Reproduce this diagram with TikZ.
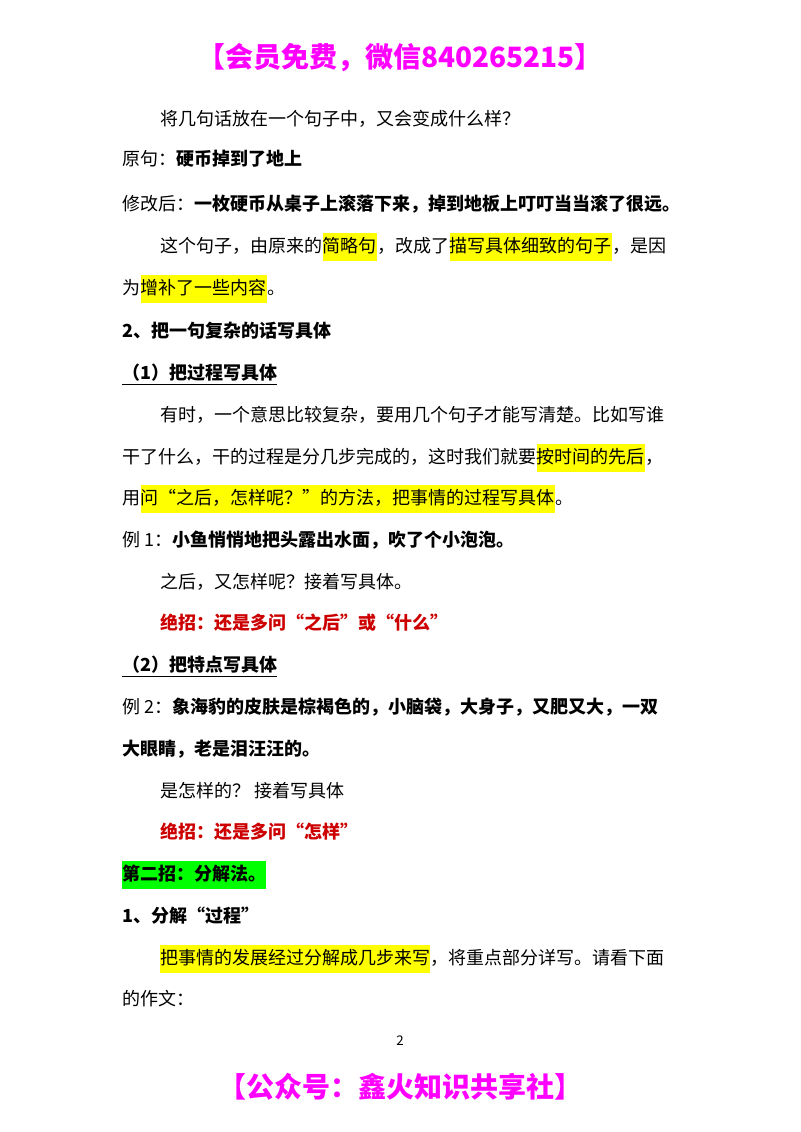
\documentclass[tikz,border=0pt]{standalone}
\usepackage{fontspec}
\setmainfont{Noto Sans CJK SC}
\definecolor{hl}{HTML}{FFFF00}
\definecolor{gr}{HTML}{00FF00}
\definecolor{mag}{HTML}{FF00FF}
\definecolor{rd}{HTML}{CC0000}
\begin{document}
\begin{tikzpicture}[x=0.75pt,y=-0.75pt,
  seg/.style={anchor=base west,inner xsep=0pt,inner ysep=4pt,font=\fontsize{13.5}{16}\selectfont,text depth=0.25em,text height=1em},
  hil/.style={seg,fill=hl},
  bd/.style={seg,font=\fontsize{13.5}{16}\selectfont\bfseries},
  hd/.style={anchor=base,font=\fontsize{21}{24}\selectfont\bfseries,text=mag,inner sep=0pt}]
\useasboundingbox (0,0) rectangle (800,1132);
\node[hd] (h1) at (400,67) {【会员免费，微信840265215】};
\node[seg] (l1) at (160,125) {将几句话放在一个句子中，又会变成什么样？};
\node[seg] (l2a) at (122,165) {原句：};
\node[bd] (l2b) at (l2a.base east) {硬币掉到了地上};
\node[seg] (l3a) at (122,210) {修改后：};
\node[bd] (l3b) at (l3a.base east) {一枚硬币从桌子上滚落下来，掉到地板上叮叮当当滚了很远。};
\node[seg] (l4a) at (160,252) {这个句子，由原来的};
\node[hil] (l4b) at (l4a.base east) {简略句};
\node[seg] (l4c) at (l4b.base east) {，改成了};
\node[hil] (l4d) at (l4c.base east) {描写具体细致的句子};
\node[seg] (l4e) at (l4d.base east) {，是因};
\node[seg] (l5a) at (122,294) {为};
\node[hil] (l5b) at (l5a.base east) {增补了一些内容};
\node[seg] (l5c) at (l5b.base east) {。};
\node[bd] (l6) at (122,337) {2、把一句复杂的话写具体};
\node[bd] (l7) at (122,379) {（1）把过程写具体};
\draw (l7.base west)++(0,5) -- ([yshift=-5*0.75pt]l7.base east);
\node[seg] (l8) at (160,421) {有时，一个意思比较复杂，要用几个句子才能写清楚。比如写谁};
\node[seg] (l9a) at (122,463) {干了什么，干的过程是分几步完成的，这时我们就要};
\node[hil] (l9b) at (l9a.base east) {按时间的先后};
\node[seg] (l9c) at (l9b.base east) {，};
\node[seg] (l10a) at (122,504) {用};
\node[hil] (l10b) at (l10a.base east) {问“之后，怎样呢？”的方法，把事情的过程写具体};
\node[seg] (l10c) at (l10b.base east) {。};
\node[seg] (l11a) at (122,546) {例 1：};
\node[bd] (l11b) at (l11a.base east) {小鱼悄悄地把头露出水面，吹了个小泡泡。};
\node[seg] (l12) at (160,588) {之后，又怎样呢？接着写具体。};
\node[bd,text=rd] (l13) at (160,629) {绝招：还是多问“之后”或“什么”};
\node[bd] (l14) at (122,671) {（2）把特点写具体};
\draw (l14.base west)++(0,5) -- ([yshift=-5*0.75pt]l14.base east);
\node[seg] (l15a) at (122,713) {例 2：};
\node[bd] (l15b) at (l15a.base east) {象海豹的皮肤是棕褐色的，小脑袋，大身子，又肥又大，一双};
\node[bd] (l16) at (122,755) {大眼睛，老是泪汪汪的。};
\node[seg] (l17) at (160,797) {是怎样的？ 接着写具体};
\node[bd,text=rd] (l18) at (160,838) {绝招：还是多问“怎样”};
\node[bd,fill=gr] (l19) at (122,880) {第二招：分解法。};
\node[bd] (l20) at (122,922) {1、分解“过程”};
\node[hil] (l21a) at (160,964) {把事情的发展经过分解成几步来写};
\node[seg] (l21b) at (l21a.base east) {，将重点部分详写。请看下面};
\node[seg] (l22) at (122,1005) {的作文：};
\node[anchor=base,inner sep=0pt,font=\fontsize{10}{12}\selectfont] (pg) at (400,1045) {2};
\node[hd] (h2) at (400,1097) {【公众号：鑫火知识共享社】};
\end{tikzpicture}
\end{document}
